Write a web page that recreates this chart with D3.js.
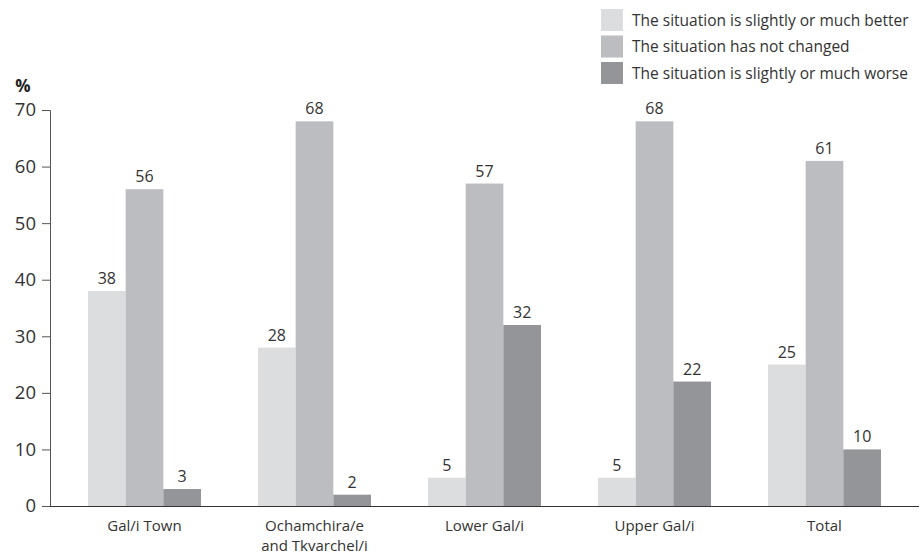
<!DOCTYPE html>
<html><head><meta charset="utf-8">
<script src="https://cdn.jsdelivr.net/npm/d3@7"></script>
<style>body{margin:0;background:#fff}svg{display:block;font-family:"Open Sans",sans-serif}</style>
</head><body><svg id="c" width="922" height="555"></svg>
<script>
const categories = [["Gal/i Town"], ["Ochamchira/e", "and Tkvarchel/i"], ["Lower Gal/i"], ["Upper Gal/i"], ["Total"]];
const seriesNames = ["The situation is slightly or much better", "The situation has not changed", "The situation is slightly or much worse"];
const better = [38, 28, 5, 5, 25];
const unchanged = [56, 68, 57, 68, 61];
const worse = [3, 2, 32, 22, 10];
const yTicks = [0, 10, 20, 30, 40, 50, 60, 70];
const colors = ["#dcdddf", "#bcbdc1", "#939598"];

const series = [better, unchanged, worse];
const svg = d3.select("#c");
const x = d3.scaleBand().domain(d3.range(categories.length)).range([59.5, 909.5]).paddingInner(0.335).paddingOuter(0.1675);
const xs = d3.scaleBand().domain(d3.range(3)).range([0, x.bandwidth()]);
const y = d3.scaleLinear().domain([0, 70]).range([506, 110]);

// y axis
const yAxis = svg.append("g").attr("transform", "translate(50,0)")
  .call(d3.axisLeft(y).tickValues(yTicks).tickSize(8).tickPadding(6));
yAxis.select(".domain").attr("stroke", "#555").attr("d", "M-8,110.5H0.5V506");
yAxis.selectAll(".tick line").attr("stroke", "#555");
yAxis.selectAll(".tick text").attr("font-size", 18.5).attr("fill", "#333").attr("font-family", "Open Sans");

svg.append("text").attr("x", 23).attr("y", 92).attr("text-anchor", "middle")
  .attr("font-size", 17).attr("font-weight", "bold").attr("fill", "#222").text("%");

// bars
const g = svg.append("g");
series.forEach((vals, si) => {
  g.selectAll(null).data(vals).enter().append("rect")
    .attr("x", (d, i) => x(i) + xs(si))
    .attr("y", d => y(d))
    .attr("width", xs.bandwidth())
    .attr("height", d => y(0) - y(d))
    .attr("fill", colors[si]);
  g.selectAll(null).data(vals).enter().append("text")
    .attr("x", (d, i) => x(i) + xs(si) + xs.bandwidth() / 2)
    .attr("y", d => y(d) - 7)
    .attr("text-anchor", "middle").attr("font-size", 16).attr("fill", "#333")
    .text(d => d);
});

// x axis line
svg.append("line").attr("x1", 50).attr("x2", 919).attr("y1", 506.5).attr("y2", 506.5).attr("stroke", "#333").attr("stroke-width", 1.2);

// category labels
categories.forEach((lines, i) => {
  lines.forEach((l, j) => svg.append("text")
    .attr("x", x(i) + x.bandwidth() / 2).attr("y", 531 + j * 19.5)
    .attr("text-anchor", "middle").attr("font-size", 15).attr("fill", "#333").text(l));
});

// legend
const lg = svg.append("g");
seriesNames.forEach((n, i) => {
  const cy = 20 + i * 26.5;
  lg.append("rect").attr("x", 601).attr("y", cy - 11).attr("width", 22).attr("height", 22).attr("fill", colors[i]);
  lg.append("text").attr("x", 632).attr("y", cy + 5.5).attr("font-size", 15.5).attr("fill", "#333").text(n);
});
</script></body></html>
